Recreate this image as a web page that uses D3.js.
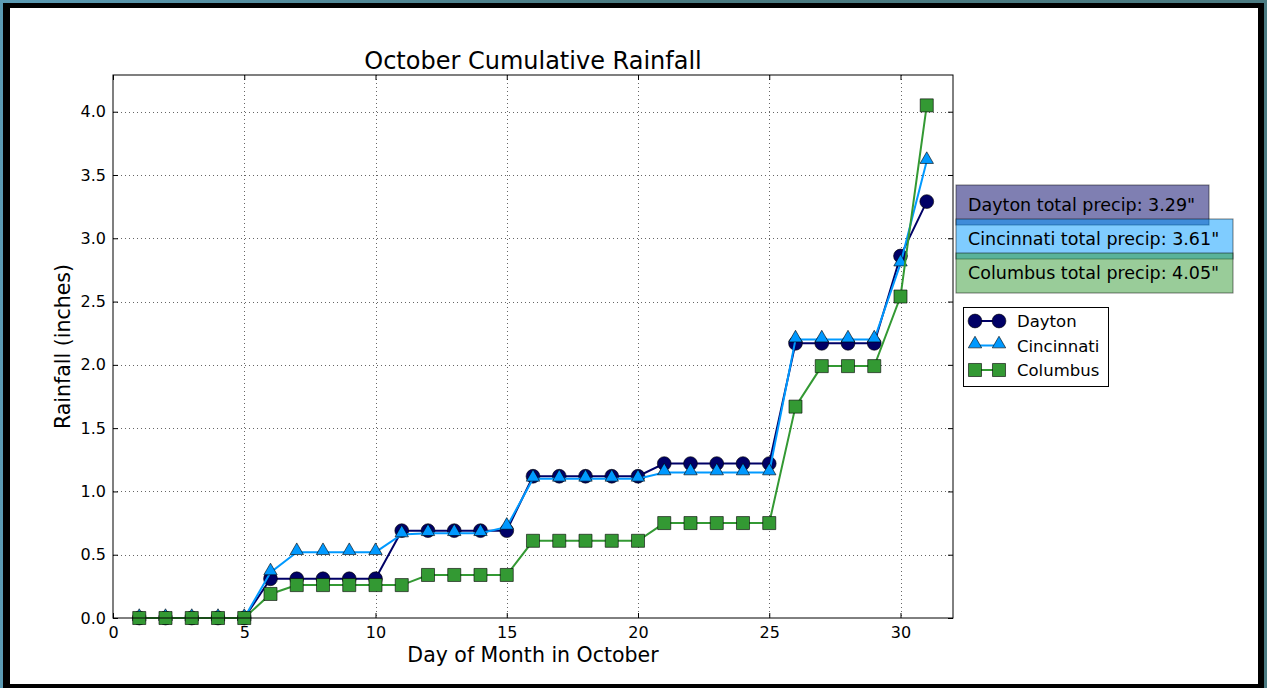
<!DOCTYPE html>
<html>
<head>
<meta charset="utf-8">
<script src="https://cdn.jsdelivr.net/npm/d3@7"></script>
<style>
  html, body { margin: 0; padding: 0; }
  body { width: 1267px; height: 688px; overflow: hidden;
         background: linear-gradient(to right, #5b9bb4, #4a7a80 50%, #4b7b82); }
  #canvas { position: absolute; left: 0; top: 0; }
  text { font-family: "DejaVu Sans", sans-serif; fill: #000; }
</style>
</head>
<body>
<div id="canvas"></div>
<script>
// data
var days = d3.range(1, 32);
var dayton     = [0,0,0,0,0, 0.31,0.31,0.31,0.31,0.31, 0.69,0.69,0.69,0.69,0.69,
                  1.12,1.12,1.12,1.12,1.12, 1.22,1.22,1.22,1.22,1.22,
                  2.17,2.17,2.17,2.17, 2.86, 3.29];
var cincinnati = [0,0,0,0,0, 0.36,0.52,0.52,0.52,0.52, 0.66,0.67,0.67,0.67,0.72,
                  1.10,1.10,1.10,1.10,1.10, 1.15,1.15,1.15,1.15,1.15,
                  2.20,2.20,2.20,2.20, 2.80, 3.61];
var columbus   = [0,0,0,0,0, 0.19,0.26,0.26,0.26,0.26, 0.26,0.34,0.34,0.34,0.34,
                  0.61,0.61,0.61,0.61,0.61, 0.75,0.75,0.75,0.75,0.75,
                  1.67,1.99,1.99,1.99, 2.54, 4.05];
var cities = ["Dayton", "Cincinnati", "Columbus"];
var xTicks = [0, 5, 10, 15, 20, 25, 30];
var yTicks = [0.0, 0.5, 1.0, 1.5, 2.0, 2.5, 3.0, 3.5, 4.0];

var seriesList = [
    {name: cities[0], values: dayton,     color: "#000066", marker: "circle"},
    {name: cities[1], values: cincinnati, color: "#0099ff", marker: "triangle"},
    {name: cities[2], values: columbus,   color: "#339933", marker: "square"}
];

var canvasWidth = 1267, canvasHeight = 688;
var plotLeft = 113, plotRight = 953, plotTop = 75, plotBottom = 618;

var svg = d3.select("#canvas").append("svg")
    .attr("width", canvasWidth)
    .attr("height", canvasHeight);

// window frame
svg.append("rect").attr("x", 3).attr("y", 3).attr("width", 1261).attr("height", 690).attr("fill", "#000");
svg.append("rect").attr("x", 10).attr("y", 8).attr("width", 1248).attr("height", 676).attr("fill", "#fff");

var x = d3.scaleLinear().domain([0, 32]).range([plotLeft, plotRight]);
var y = d3.scaleLinear().domain([0, 4.29]).range([plotBottom, plotTop]);

// grid
var grid = svg.append("g");
grid.selectAll(".gx").data(xTicks.slice(1)).enter().append("line")
    .attr("x1", function(d) { return Math.round(x(d)) + 0.5; })
    .attr("x2", function(d) { return Math.round(x(d)) + 0.5; })
    .attr("y1", plotTop).attr("y2", plotBottom)
    .attr("stroke", "#666").attr("stroke-width", 1).attr("stroke-dasharray", "1,3");
grid.selectAll(".gy").data(yTicks.slice(1)).enter().append("line")
    .attr("y1", function(d) { return Math.round(y(d)) + 0.5; })
    .attr("y2", function(d) { return Math.round(y(d)) + 0.5; })
    .attr("x1", plotLeft).attr("x2", plotRight)
    .attr("stroke", "#666").attr("stroke-width", 1).attr("stroke-dasharray", "1,3");

// axes (ticks inward, on all sides)
function styleAxis(g) {
    g.select(".domain").remove();
    g.selectAll(".tick line").attr("stroke", "#000");
    g.selectAll(".tick text").style("font-family", "DejaVu Sans, sans-serif").style("font-size", "16px").attr("fill", "#000");
}
svg.append("g").attr("transform", "translate(0," + plotBottom + ")")
    .call(d3.axisBottom(x).tickValues(xTicks).tickSize(-5).tickPadding(9).tickFormat(d3.format("d")))
    .call(styleAxis);
svg.append("g").attr("transform", "translate(0," + plotTop + ")")
    .call(d3.axisTop(x).tickValues(xTicks).tickSize(-5).tickFormat(""))
    .call(styleAxis);
svg.append("g").attr("transform", "translate(" + plotLeft + ",0)")
    .call(d3.axisLeft(y).tickValues(yTicks).tickSize(-5).tickPadding(7).tickFormat(d3.format(".1f")))
    .call(styleAxis);
svg.append("g").attr("transform", "translate(" + plotRight + ",0)")
    .call(d3.axisRight(y).tickValues(yTicks).tickSize(-5).tickFormat(""))
    .call(styleAxis);

// markers
function markerPath(type, size) {
    var sym = type == "circle" ? d3.symbolCircle : (type == "triangle" ? d3.symbolTriangle : d3.symbolSquare);
    return d3.symbol().type(sym).size(size)();
}
var markerSize = {circle: 150, triangle: 78, square: 170};

var line = d3.line()
    .x(function(d, i) { return x(days[i]); })
    .y(function(d) { return y(d); });

var dataLayer = svg.append("g");
seriesList.forEach(function(s) {
    var g = dataLayer.append("g");
    g.append("path")
        .attr("d", line(s.values))
        .attr("fill", "none")
        .attr("stroke", s.color)
        .attr("stroke-width", 2);
    g.selectAll("path.mk").data(s.values).enter().append("path")
        .attr("class", "mk")
        .attr("d", markerPath(s.marker, markerSize[s.marker]))
        .attr("transform", function(d, i) {
            var dy = s.marker == "triangle" ? -1.5 : 0;
            return "translate(" + x(days[i]) + "," + (y(d) + dy) + ")";
        })
        .attr("fill", s.color)
        .attr("stroke", "#000")
        .attr("stroke-opacity", 0.6)
        .attr("stroke-width", 1);
});

// frame
svg.append("rect")
    .attr("x", plotLeft).attr("y", plotTop)
    .attr("width", plotRight - plotLeft).attr("height", plotBottom - plotTop)
    .attr("fill", "none").attr("stroke", "#000").attr("stroke-width", 1);

// titles
svg.append("text").attr("x", (plotLeft + plotRight) / 2).attr("y", 69)
    .attr("text-anchor", "middle").style("font-size", "24px")
    .text("October Cumulative Rainfall");
svg.append("text").attr("x", (plotLeft + plotRight) / 2).attr("y", 662)
    .attr("text-anchor", "middle").style("font-size", "20.5px")
    .text("Day of Month in October");
svg.append("text")
    .attr("transform", "translate(70," + (plotTop + plotBottom) / 2 + ") rotate(-90)")
    .attr("text-anchor", "middle").style("font-size", "20.5px")
    .text("Rainfall (inches)");

// total precip boxes
var boxWidths = [253, 277, 277];
seriesList.forEach(function(s, i) {
    var top = 185 + i * 34;
    svg.append("rect")
        .attr("x", 956).attr("y", top)
        .attr("width", boxWidths[i]).attr("height", 40)
        .attr("fill", s.color).attr("fill-opacity", 0.5)
        .attr("stroke", "#000").attr("stroke-opacity", 0.5).attr("stroke-width", 1);
});
seriesList.forEach(function(s, i) {
    var total = s.values[s.values.length - 1];
    svg.append("text")
        .attr("x", 968).attr("y", 211 + i * 34)
        .style("font-size", "17.5px")
        .text(s.name + " total precip: " + total.toFixed(2) + "\"");
});

// legend
var legend = svg.append("g");
legend.append("rect")
    .attr("x", 963.5).attr("y", 307.5).attr("width", 145).attr("height", 79)
    .attr("fill", "#fff").attr("stroke", "#000").attr("stroke-width", 1);
seriesList.forEach(function(s, i) {
    var ly = 321 + i * 24.5;
    legend.append("line")
        .attr("x1", 975).attr("x2", 999).attr("y1", ly).attr("y2", ly)
        .attr("stroke", s.color).attr("stroke-width", 2);
    [975, 999].forEach(function(lx) {
        legend.append("path")
            .attr("d", markerPath(s.marker, markerSize[s.marker]))
            .attr("transform", "translate(" + lx + "," + (ly + (s.marker == "triangle" ? -1.5 : 0)) + ")")
            .attr("fill", s.color).attr("stroke", "#000").attr("stroke-opacity", 0.6);
    });
    legend.append("text")
        .attr("x", 1017).attr("y", ly + 6)
        .style("font-size", "16.5px")
        .text(s.name);
});
</script>
</body>
</html>
